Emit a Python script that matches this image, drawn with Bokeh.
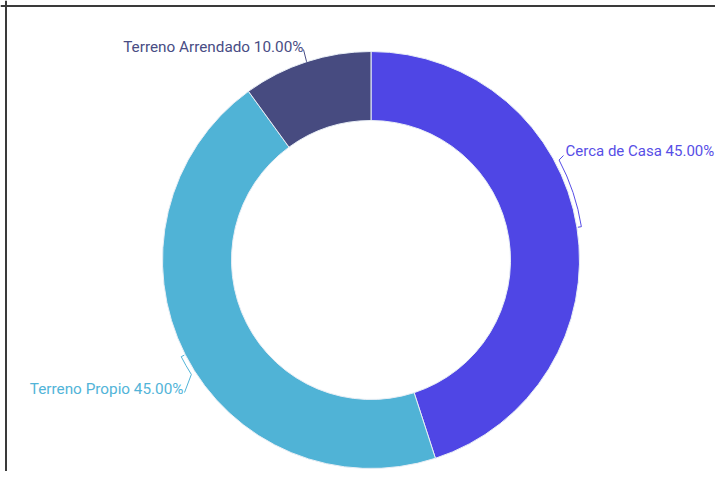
import math
from bokeh.plotting import figure
from bokeh.models import Range1d, Span, ColumnDataSource
from bokeh.core.properties import value
from bokeh.embed import file_html
from bokeh.resources import INLINE

# ---- data ----
categories = ["Cerca de Casa", "Terreno Propio", "Terreno Arrendado"]
shares = [45.0, 45.0, 10.0]
colors = ["#4F46E5", "#50B3D6", "#474B80"]
label_colors = ["#574EE6", "#52B4D8", "#494D84"]

W, H = 715, 471


def py(y):
    # picture pixel y -> data y (data y grows upward)
    return H - y


p = figure(width=W, height=H, output_backend="svg", toolbar_location=None,
           x_range=Range1d(0, W), y_range=Range1d(0, H),
           min_border=0, outline_line_color=None)
p.axis.visible = False
p.grid.visible = False
p.background_fill_color = "white"
p.border_fill_color = "white"

cx, cy = 370.5, py(259.5)
r_out, r_in = 208.5, 139.5

total = sum(shares)
starts, ends, mids = [], [], []
acc = 0.0
for s in shares:
    t1 = acc / total * 360.0
    t2 = (acc + s) / total * 360.0
    acc += s
    # clockwise-from-top -> bokeh angle (counter-clockwise from +x)
    starts.append(math.radians(90 - t2))
    ends.append(math.radians(90 - t1))
    mids.append((t1 + t2) / 2.0)

src = ColumnDataSource(dict(start=starts, end=ends, color=colors, cat=categories))
p.annular_wedge(x=cx, y=cy, inner_radius=r_in, outer_radius=r_out,
                start_angle="start", end_angle="end", fill_color="color",
                line_color="#E8EEF5", line_width=1, source=src)


def pt(theta_cw, r):
    a = math.radians(theta_cw)
    return cx + r * math.sin(a), cy + r * math.cos(a)


# label layout (positions only)
r_lead = 213
label_pos = [(565, 150, "left"), (183, 388, "right"), (303, 46, "right")]
label_size = ["15px", "15.3px", "15.3px"]
conn_ang = [62.0, 237.5, None]
conn_end = [(563, 155), (184, 392), (303, 49)]

for i in range(3):
    col = label_colors[i]
    m = mids[i]
    mx, my = pt(m, r_lead)
    if conn_ang[i] is not None:
        a0, a1 = sorted([m, conn_ang[i]])
        p.arc(x=cx, y=cy, radius=r_lead, start_angle=math.radians(90 - a1),
              end_angle=math.radians(90 - a0), line_color=col, line_width=1)
        ix, iy = pt(m, r_out + 1)
        p.line([ix, mx], [iy, my], line_color=col, line_width=1)
        kx, ky = pt(conn_ang[i], r_lead)
        ex, ey = conn_end[i]
        p.line([kx, ex], [ky, py(ey)], line_color=col, line_width=1)
    else:
        ix, iy = pt(m, r_out)
        ex, ey = conn_end[i]
        p.line([ix, ex], [iy, py(ey)], line_color=col, line_width=1)
    lx, ly, al = label_pos[i]
    p.text(x=[lx], y=[py(ly)], text=[f"{categories[i]} {shares[i]:.2f}%"],
           text_align=al, text_baseline="middle", text_color=col,
           text_font=value("Roboto"), text_font_size=label_size[i])

# frame border (top and left only)
p.add_layout(Span(location=py(5.5), dimension="width", line_color="#3A3A3A", line_width=2))
p.add_layout(Span(location=5.5, dimension="height", line_color="#3A3A3A", line_width=2))

open("out.html", "w").write(file_html(p, INLINE))
